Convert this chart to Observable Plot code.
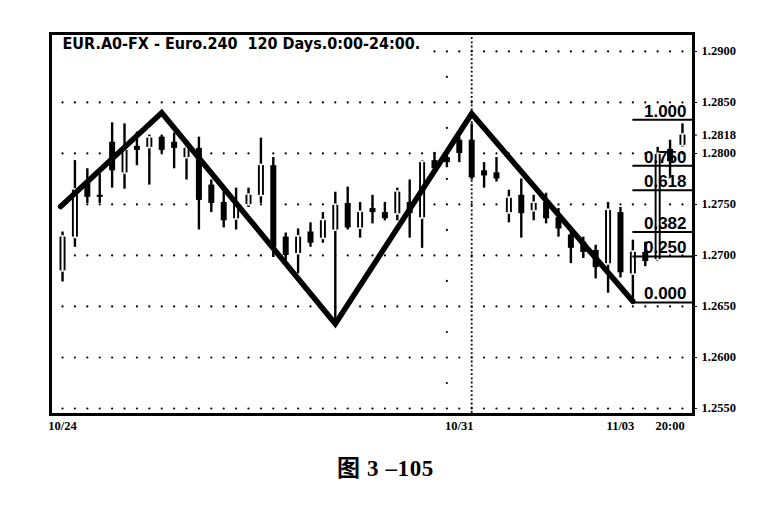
<!DOCTYPE html>
<html>
<head>
<meta charset="utf-8">
<script src="https://cdn.jsdelivr.net/npm/d3@7"></script>
<script src="https://cdn.jsdelivr.net/npm/@observablehq/plot@0.6"></script>
<style>
  html, body { margin: 0; padding: 0; background: #fff; }
  #chart svg { display: block; }
  #caption { width: 771px; text-align: center; margin-top: 17px; font-family: "Liberation Serif", "Noto Sans CJK SC", serif; font-weight: bold; font-size: 23px; line-height: 24px; letter-spacing: 0.6px; color: #000; }
</style>
</head>
<body>
<div id="chart"></div>
<div id="caption">图 3 –105</div>
<script>
// ---- data (EUR 4-hour candles) ----
const opens  = [1.2685,1.2718,1.2771,1.2759,1.2811,1.2781,1.2807,1.2806,1.2816,1.2811,1.2796,1.2805,1.2769,1.2752,1.2736,1.2750,1.2759,1.2788,1.2718,1.2702,1.2723,1.2717,1.2725,1.2751,1.2727,1.2746,1.2742,1.2741,1.2752,1.2737,1.2793,1.2796,1.2813,1.2813,1.2783,1.2781,1.2742,1.2759,1.2744,1.2752,1.2737,1.2720,1.2713,1.2705,1.2692,1.2742,1.2682,1.2703,1.2696,1.2804,1.2808];
const highs  = [1.2723,1.2793,1.2785,1.2780,1.2830,1.2829,1.2821,1.2818,1.2818,1.2820,1.2806,1.2816,1.2774,1.2764,1.2766,1.2766,1.2815,1.2796,1.2722,1.2726,1.2732,1.2742,1.2762,1.2767,1.2752,1.2759,1.2752,1.2766,1.2774,1.2793,1.2801,1.2798,1.2816,1.2829,1.2791,1.2796,1.2764,1.2775,1.2759,1.2761,1.2746,1.2725,1.2718,1.2710,1.2752,1.2747,1.2715,1.2713,1.2806,1.2813,1.2829];
const lows   = [1.2674,1.2708,1.2751,1.2751,1.2766,1.2765,1.2788,1.2769,1.2800,1.2785,1.2774,1.2725,1.2742,1.2727,1.2725,1.2747,1.2751,1.2698,1.2695,1.2682,1.2708,1.2712,1.2630,1.2725,1.2717,1.2731,1.2734,1.2734,1.2717,1.2707,1.2781,1.2786,1.2791,1.2774,1.2766,1.2772,1.2732,1.2717,1.2734,1.2731,1.2718,1.2692,1.2697,1.2677,1.2663,1.2678,1.2654,1.2689,1.2694,1.2777,1.2806];
const closes = [1.2718,1.2764,1.2757,1.2757,1.2783,1.2803,1.2803,1.2815,1.2803,1.2805,1.2805,1.2754,1.2751,1.2734,1.2751,1.2759,1.2788,1.2708,1.2700,1.2718,1.2712,1.2734,1.2749,1.2727,1.2742,1.2742,1.2736,1.2762,1.2741,1.2791,1.2785,1.2791,1.2800,1.2776,1.2778,1.2775,1.2756,1.2741,1.2751,1.2736,1.2726,1.2707,1.2703,1.2688,1.2744,1.2683,1.2703,1.2694,1.2799,1.2792,1.2818];

// zigzag swing points (bar index, price)
const zigIdx   = [-0.15, 8, 22, 33, 46];
const zigPrice = [1.2748, 1.2840, 1.2633, 1.2839, 1.2655];

// Fibonacci retracement levels
const fibLabels = ["1.000","0.750","0.618","0.382","0.250","0.000"];
const fibPrices = [1.2833, 1.2788, 1.2764, 1.2723, 1.2699, 1.2654];
const fibStartIdx = 46;

// axes
const yTicks = [1.2900, 1.2850, 1.2818, 1.2800, 1.2750, 1.2700, 1.2650, 1.2600, 1.2550];
const gridLevels = [1.2900, 1.2850, 1.2800, 1.2750, 1.2700, 1.2650, 1.2600, 1.2550];
const xTickIdx = [0, 32, 45, 49];
const xTickLabels = ["10/24", "10/31", "11/03", "20:00"];
const sessionIdx = 33;          // dense dotted separator
const sparseIdx = 31;           // sparse dotted column
const sparseLevels = [1.2875, 1.2825, 1.2775, 1.2725, 1.2675, 1.2625, 1.2575];
const titleText = "EUR.A0-FX - Euro.240  120 Days.0:00-24:00.";

const xDomain = [-0.97, 50.89];
const yDomain = [1.25441, 1.29176];

// ---- build tables ----
const candles = opens.map((o, i) => ({i, open: o, high: highs[i], low: lows[i], close: closes[i]}));
const upCandles = candles.filter(d => d.close >= d.open);
const zig = zigIdx.map((x, k) => ({x, y: zigPrice[k]}));
const fib = fibLabels.map((l, k) => ({label: l, price: fibPrices[k]}));
const gridPts = [];
for (const v of gridLevels) for (const c of candles) {
  if (v === 1.2900 && c.i < 30) continue; // hidden behind the title
  gridPts.push({i: c.i, v});
}
const sparsePts = sparseLevels.map(v => ({i: sparseIdx, v}));
const xLabelMap = new Map(xTickIdx.map((d, k) => [d, xTickLabels[k]]));

const serif = "'Liberation Serif', 'Times New Roman', serif";
const narrow = "'Liberation Sans Narrow', 'DejaVu Sans Condensed', 'Liberation Sans', sans-serif";

const chart = Plot.plot({
  width: 781,
  height: 440,
  marginLeft: 50,
  marginRight: 88,
  marginTop: 33,
  marginBottom: 26,
  style: {fontFamily: serif, fontSize: "12.5px", fontWeight: "bold", color: "black", background: "white"},
  x: {type: "linear", domain: xDomain, axis: null},
  y: {type: "linear", domain: yDomain, axis: null},
  marks: [
    // dotted grid
    Plot.dot(gridPts, {x: "i", y: "v", r: 1.1, fill: "black", stroke: null}),
    Plot.dot(sparsePts, {x: "i", y: "v", r: 1.1, fill: "black", stroke: null}),
    Plot.ruleX([sessionIdx], {stroke: "black", strokeWidth: 1.8, strokeDasharray: "1.8,2.4"}),
    // candles
    Plot.ruleX(candles, {x: "i", y1: "low", y2: "high", stroke: "black", strokeWidth: 2.4}),
    Plot.ruleX(candles, {x: "i", y1: "open", y2: "close", stroke: "black", strokeWidth: 6}),
    Plot.ruleX(upCandles, {x: "i", y1: "open", y2: "close", stroke: "white", strokeWidth: 2.2, insetTop: 1.6, insetBottom: 1.6}),
    // fibonacci
    Plot.ruleY(fib, {y: "price", x1: fibStartIdx, x2: xDomain[1], stroke: "black", strokeWidth: 2}),
    Plot.text(fib, {y: "price", text: "label", frameAnchor: "right", textAnchor: "end", lineAnchor: "bottom", dx: -7, dy: -3,
      fontSize: 17, fontWeight: "bold", fontFamily: "'Liberation Sans', Arial, sans-serif", fill: "black"}),
    // zigzag
    Plot.line(zig, {x: "x", y: "y", stroke: "black", strokeWidth: 5.5, strokeLinejoin: "miter", strokeMiterlimit: 10, curve: "linear"}),
    // frame
    Plot.frame({stroke: "black", strokeWidth: 3}),
    // title
    Plot.text([titleText], {frameAnchor: "top-left", dx: 12, dy: 4, textAnchor: "start", lineAnchor: "top",
      fontSize: 16, fontWeight: "bold", fontFamily: narrow, fill: "black"}),
    // axes
    Plot.axisY({anchor: "right", ticks: yTicks, tickFormat: d => d.toFixed(4), tickSize: 3, tickPadding: 5, label: null}),
    Plot.axisX({anchor: "bottom", ticks: xTickIdx, tickFormat: d => xLabelMap.get(d), tickSize: 0, tickPadding: 7, label: null})
  ]
});
document.getElementById("chart").appendChild(chart);
</script>
</body>
</html>
